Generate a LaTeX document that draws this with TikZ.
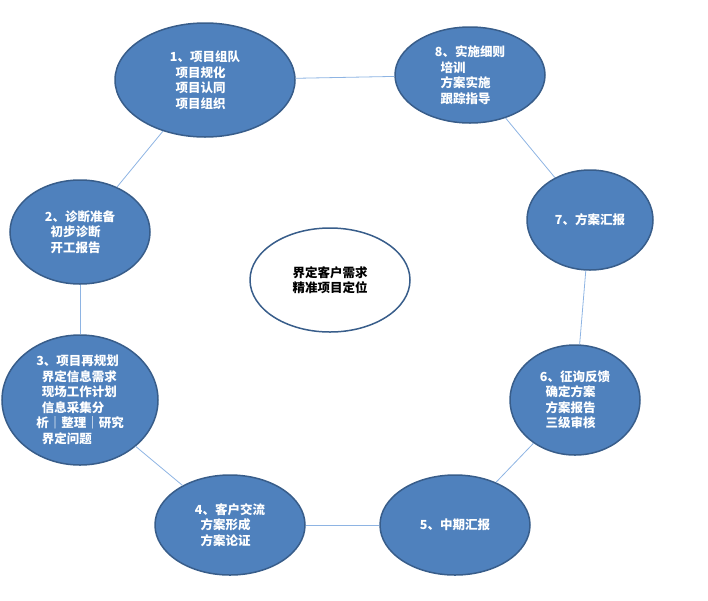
\documentclass[tikz,border=0pt]{standalone}
\usepackage{fontspec}
\usetikzlibrary{shapes.geometric}
\newfontfamily\cjk{Noto Sans CJK SC}
\definecolor{fillb}{HTML}{4F81BD}
\definecolor{edgeb}{HTML}{385D8A}
\definecolor{linkb}{HTML}{8EB4E3}
\begin{document}
\begin{tikzpicture}[x=1pt,y=-1pt,
  el/.style={ellipse,draw=edgeb,line width=1.5pt,fill=fillb,text=white,font=\cjk\bfseries\fontsize{12.5}{15.5}\selectfont,align=left,inner sep=0pt},
  link/.style={draw=linkb,line width=0.8pt}]
\useasboundingbox (0,0) rectangle (708,600);
\node[el,minimum width=180pt,minimum height=114pt] (n1) at (205,80) {1、项目组队\\\ \ 项目规化\\\ \ 项目认同\\\ \ 项目组织};
\node[el,minimum width=150pt,minimum height=96pt] (n8) at (470,75) {8、实施细则\\\ \ 培训\\\ \ 方案实施\\\ \ 跟踪指导};
\node[el,minimum width=126pt,minimum height=100pt] (n7) at (590,220) {7、方案汇报};
\node[el,minimum width=140pt,minimum height=104pt] (n2) at (80,232) {2、诊断准备\\\ \ 初步诊断\\\ \ 开工报告};
\node[ellipse,draw=edgeb,line width=1.5pt,fill=white,font=\cjk\bfseries\fontsize{12.5}{15.5}\selectfont,align=center,minimum width=160pt,minimum height=104pt] (c) at (330,280) {界定客户需求\\精准项目定位};
\node[el,minimum width=156pt,minimum height=130pt] (n3) at (80,400) {3、项目再规划\\\ \ 界定信息需求\\\ \ 现场工作计划\\\ \ 信息采集分\\析｜整理｜研究\\\ \ 界定问题};
\node[el,minimum width=130pt,minimum height=110pt] (n6) at (575,400) {6、征询反馈\\\ \ 确定方案\\\ \ 方案报告\\\ \ 三级审核};
\node[el,minimum width=150pt,minimum height=100pt] (n4) at (230,525) {4、客户交流\\\ \ 方案形成\\\ \ 方案论证};
\node[el,minimum width=150pt,minimum height=100pt] (n5) at (455,525) {5、中期汇报};
\draw[link] (n1) -- (n8);
\draw[link] (n8) -- (n7);
\draw[link] (n7) -- (n6);
\draw[link] (n6) -- (n5);
\draw[link] (n5) -- (n4);
\draw[link] (n4) -- (n3);
\draw[link] (n3) -- (n2);
\draw[link] (n2) -- (n1);
\end{tikzpicture}
\end{document}
